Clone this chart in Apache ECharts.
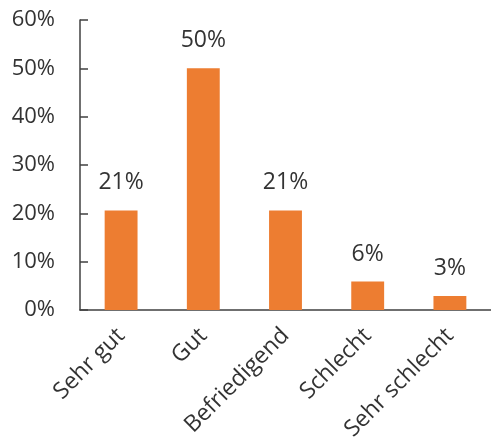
<!DOCTYPE html>
<html>
<head>
<meta charset="utf-8">
<script src="https://cdn.jsdelivr.net/npm/echarts@6/dist/echarts.min.js"></script>
<style>
  html, body { margin: 0; padding: 0; background: #fff; }
  #chart { width: 491px; height: 447px; }
</style>
</head>
<body>
<div id="chart"></div>
<script>
// Ratings and their share of responses (percent)
const categories = ['Sehr gut', 'Gut', 'Befriedigend', 'Schlecht', 'Sehr schlecht'];
const shares = [20.6, 50, 20.6, 5.9, 2.9];
const yTicks = [0, 10, 20, 30, 40, 50, 60];

const textColor = '#333333';
const fontFamily = '"Open Sans", "Noto Sans", sans-serif';

const chart = echarts.init(document.getElementById('chart'));
chart.setOption({
  animation: false,
  grid: { left: 80, right: 0, top: 20, bottom: 137, containLabel: false },
  xAxis: {
    type: 'category',
    data: categories,
    axisLine: { lineStyle: { color: '#404040', width: 1.5 } },
    axisTick: { show: false },
    axisLabel: {
      rotate: 45,
      margin: 22,
      color: textColor,
      fontSize: 23,
      fontFamily: fontFamily
    }
  },
  yAxis: {
    type: 'value',
    min: yTicks[0],
    max: yTicks[yTicks.length - 1],
    interval: 10,
    splitLine: { show: false },
    axisLine: { show: true, lineStyle: { color: '#404040', width: 1.5 } },
    axisTick: { show: true, inside: true, length: 8, lineStyle: { color: '#404040', width: 1.5 } },
    axisLabel: {
      margin: 25,
      color: textColor,
      fontSize: 22,
      fontFamily: fontFamily,
      formatter: v => v + '%'
    }
  },
  series: [{
    type: 'bar',
    data: shares,
    barWidth: '40%',
    itemStyle: { color: '#ED7D31' },
    label: {
      show: true,
      position: 'top',
      distance: 16,
      color: textColor,
      fontSize: 23,
      fontFamily: fontFamily,
      formatter: p => Math.round(p.value) + '%'
    }
  }]
});
</script>
</body>
</html>
